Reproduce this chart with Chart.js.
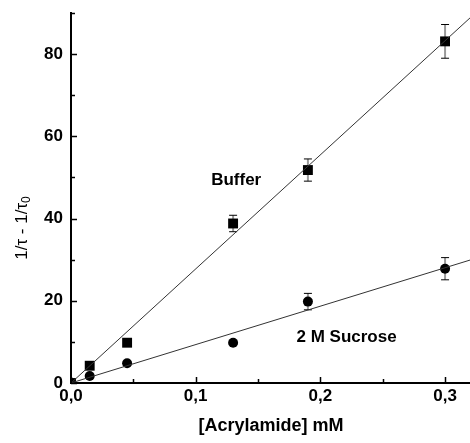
<!DOCTYPE html>
<html>
<head>
<meta charset="utf-8">
<script src="https://cdn.jsdelivr.net/npm/chart.js@4/dist/chart.umd.min.js"></script>
<style>
  html, body { margin: 0; padding: 0; background: #fff; }
  canvas { display: block; }
</style>
</head>
<body>
<canvas id="chart" width="470" height="443"></canvas>
<script>
// --- data
const concentration = [0, 0.015, 0.045, 0.13, 0.19, 0.3];
const bufferValues  = [0, 4.2, 9.8, 38.8, 51.8, 83.1];
const bufferErrors  = [0, 0, 0, 2, 2.7, 4.1];
const sucroseValues = [0, 1.7, 4.8, 9.8, 19.8, 27.8];
const sucroseErrors = [0, 0, 0, 0, 2, 2.7];

// linear fits (end points of the drawn lines)
const fitX          = [0, 0.32];
const bufferFit     = [0, 88.8];
const sucroseFit    = [0, 29.9];

// axis ticks
const xTicks      = [0, 0.05, 0.1, 0.15, 0.2, 0.25, 0.3];
const xTickLabels = ['0,0', '', '0,1', '', '0,2', '', '0,3'];
const yTicks      = [0, 10, 20, 30, 40, 50, 60, 70, 80, 90];
const yTickLabels = ['0', '', '20', '', '40', '', '60', '', '80', ''];

const FONT = '"Liberation Sans", Arial, sans-serif';

function pts(xs, ys){ return xs.map((x, i) => ({ x: x, y: ys[i] })); }

// --- error bars (gray stem, black caps), drawn under the markers
const errorBars = {
  id: 'errorBars',
  beforeDatasetsDraw(chart) {
    const { ctx, scales: { x, y } } = chart;
    const sets = [[bufferValues, bufferErrors], [sucroseValues, sucroseErrors]];
    ctx.save();
    sets.forEach(([vals, errs]) => {
      concentration.forEach((c, i) => {
        if (!errs[i]) return;
        const px = x.getPixelForValue(c);
        const top = y.getPixelForValue(vals[i] + errs[i]);
        const bot = y.getPixelForValue(vals[i] - errs[i]);
        ctx.strokeStyle = '#9a9a9a';
        ctx.lineWidth = 2;
        ctx.beginPath(); ctx.moveTo(px, top); ctx.lineTo(px, bot); ctx.stroke();
        ctx.strokeStyle = '#000';
        ctx.lineWidth = 1;
        ctx.beginPath();
        ctx.moveTo(px - 4, top); ctx.lineTo(px + 4, top);
        ctx.moveTo(px - 4, bot); ctx.lineTo(px + 4, bot);
        ctx.stroke();
      });
    });
    ctx.restore();
  }
};

// --- inward tick marks, series labels and axis titles
const decorations = {
  id: 'decorations',
  afterDraw(chart) {
    const { ctx, chartArea: a, scales: { x, y } } = chart;
    ctx.save();
    ctx.strokeStyle = '#000';
    ctx.lineWidth = 1.5;
    ctx.beginPath();
    xTicks.forEach((v, i) => {
      const px = Math.round(x.getPixelForValue(v)) + 0.5;
      const len = xTickLabels[i] ? 6 : 4;
      ctx.moveTo(px, a.bottom); ctx.lineTo(px, a.bottom - len);
    });
    yTicks.forEach((v, i) => {
      const py = Math.round(y.getPixelForValue(v)) + 0.5;
      const len = yTickLabels[i] ? 6 : 4;
      ctx.moveTo(a.left, py); ctx.lineTo(a.left + len, py);
    });
    ctx.stroke();

    ctx.fillStyle = '#000';
    ctx.textAlign = 'center';
    ctx.textBaseline = 'middle';
    ctx.font = 'bold 17px ' + FONT;
    ctx.fillText('Buffer', x.getPixelForValue(0.1325), y.getPixelForValue(49.3));
    ctx.fillText('2 M Sucrose', x.getPixelForValue(0.221), y.getPixelForValue(11.2));

    ctx.font = 'bold 18px ' + FONT;
    ctx.fillText('[Acrylamide] mM', 271, 426);

    // y title with subscript
    ctx.translate(22, 228);
    ctx.rotate(-Math.PI / 2);
    const main = '1/\u03c4 - 1/\u03c4';
    ctx.font = '17px ' + FONT;
    const w1 = ctx.measureText(main).width;
    ctx.font = '12px ' + FONT;
    const w2 = ctx.measureText('0').width;
    const start = -(w1 + w2) / 2;
    ctx.textAlign = 'left';
    ctx.font = '17px ' + FONT;
    ctx.fillText(main, start, 0);
    ctx.font = '12px ' + FONT;
    ctx.fillText('0', start + w1, 5);
    ctx.restore();
  }
};

new Chart(document.getElementById('chart'), {
  type: 'scatter',
  data: {
    datasets: [
      { type: 'line', data: pts(fitX, bufferFit), borderColor: '#333', borderWidth: 1, pointRadius: 0, fill: false },
      { type: 'line', data: pts(fitX, sucroseFit), borderColor: '#333', borderWidth: 1, pointRadius: 0, fill: false },
      { data: pts(concentration, bufferValues), pointStyle: 'rect', pointRadius: 7,
        backgroundColor: '#000', borderColor: '#000', borderWidth: 0, clip: 0 },
      { data: pts(concentration, sucroseValues), pointStyle: 'circle', pointRadius: 5,
        backgroundColor: '#000', borderColor: '#000', borderWidth: 0, clip: 0 }
    ]
  },
  options: {
    responsive: false,
    animation: false,
    events: [],
    layout: { autoPadding: false, padding: { top: 13, right: 0, left: 0, bottom: 0 } },
    plugins: { legend: { display: false }, tooltip: { enabled: false } },
    scales: {
      x: {
        type: 'linear', min: 0, max: 0.32,
        afterBuildTicks: s => { s.ticks = xTicks.map(v => ({ value: v })); },
        afterFit: s => { s.height = 60; s.paddingLeft = 0; s.paddingRight = 0; },
        ticks: {
          autoSkip: false, maxRotation: 0, padding: 3, color: '#000',
          font: { family: FONT, size: 17, weight: 'bold' },
          callback: (v, i) => xTickLabels[i]
        },
        grid: { display: false, drawTicks: false },
        border: { display: true, color: '#000', width: 2 }
      },
      y: {
        type: 'linear', min: 0, max: 90,
        afterBuildTicks: s => { s.ticks = yTicks.map(v => ({ value: v })); },
        afterFit: s => { s.width = 71; s.paddingTop = 0; s.paddingBottom = 0; },
        ticks: {
          autoSkip: false, padding: 8, color: '#000',
          font: { family: FONT, size: 17, weight: 'bold' },
          callback: (v, i) => yTickLabels[i]
        },
        grid: { display: false, drawTicks: false },
        border: { display: true, color: '#000', width: 2 }
      }
    }
  },
  plugins: [errorBars, decorations]
});
</script>
</body>
</html>
